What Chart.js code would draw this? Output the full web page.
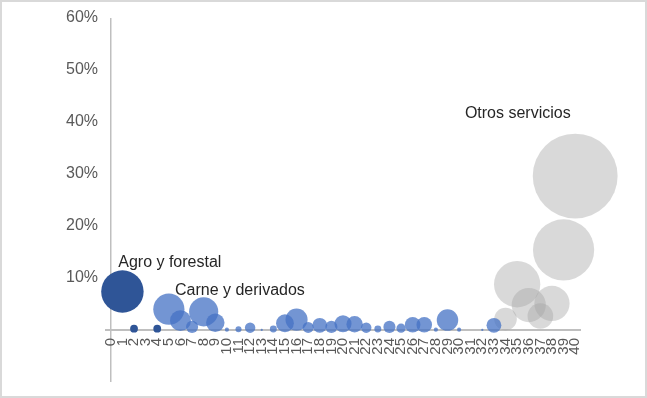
<!DOCTYPE html>
<html>
<head>
<meta charset="utf-8">
<script src="https://cdn.jsdelivr.net/npm/chart.js@4/dist/chart.umd.min.js"></script>
<style>
  html, body { margin: 0; padding: 0; background: #fff; }
  #wrap { width: 647px; height: 398px; position: relative; }
</style>
</head>
<body>
<div id="wrap"><canvas id="chart" width="647" height="398"></canvas></div>
<script>
// Sector number (x) and share of the total in % (y; also sets bubble area)
const primaryX = [1, 2, 4];
const primaryShare = [7.4, 0.25, 0.25];

const industryX = [5, 6, 7, 8, 9, 10, 11, 12, 13, 14, 15, 16, 17, 18, 19, 20,
                   21, 22, 23, 24, 25, 26, 27, 28, 29, 30, 32, 33];
const industryShare = [4.0, 1.8, 0.6, 3.5, 1.4, 0.07, 0.15, 0.45, 0.02, 0.2, 1.3, 2.0,
                       0.5, 0.9, 0.6, 1.2, 1.1, 0.45, 0.2, 0.6, 0.35, 1.0, 1.0, 0.07,
                       1.9, 0.07, 0.02, 0.9];

const servicesX = [34, 35, 36, 37, 38, 39, 40];
const servicesShare = [2.1, 8.8, 4.8, 2.7, 5.1, 15.4, 29.6];

// Sector numbers printed along the horizontal axis
const xTickValues = [0, 1, 2, 3, 4, 5, 6, 7, 8, 9, 10, 11, 12, 13, 14, 15, 16, 17, 18, 19, 20,
                     21, 22, 23, 24, 25, 26, 27, 28, 29, 30, 31, 32, 33, 34, 35, 36, 37, 38, 39, 40];
const yTickValues = [0, 10, 20, 30, 40, 50, 60];
const yTickLabels = [10, 20, 30, 40, 50, 60];

const groupNames = ['Agro y forestal', 'Carne y derivados', 'Otros servicios'];

// Bubble area proportional to the share
const bubbleRadius = share => 7.8 * Math.sqrt(share);
const toPoints = (xs, shares) => xs.map((x, i) => ({ x: x, y: shares[i], r: bubbleRadius(shares[i]) }));

const FONT = '"Liberation Sans", Arial, sans-serif';
Chart.defaults.font.family = FONT;

// Frame around the whole figure
const framePlugin = {
  id: 'frame',
  beforeDraw(chart) {
    const ctx = chart.ctx;
    ctx.save();
    ctx.fillStyle = '#ffffff';
    ctx.fillRect(0, 0, chart.width, chart.height);
    ctx.strokeStyle = '#d9d9d9';
    ctx.lineWidth = 2;
    ctx.strokeRect(1, 1, chart.width - 2, chart.height - 2);
    ctx.restore();
  }
};

// Group names written next to their bubbles (anchors in data units)
const groupLabelPlugin = {
  id: 'groupLabels',
  afterDatasetsDraw(chart, args, opts) {
    const { ctx, scales: { x, y } } = chart;
    ctx.save();
    ctx.font = '16px ' + FONT;
    ctx.fillStyle = '#262626';
    ctx.textAlign = 'left';
    ctx.textBaseline = 'middle';
    opts.items.forEach(it => {
      ctx.fillText(it.text, x.getPixelForValue(it.x), y.getPixelForValue(it.y));
    });
    ctx.restore();
  }
};

const AXIS_GREY = '#bfbfbf';
const NONE = 'rgba(0,0,0,0)';
const isZero = v => Math.abs(v) < 1e-9;

new Chart(document.getElementById('chart'), {
  type: 'bubble',
  data: {
    datasets: [
      {
        label: groupNames[0],
        data: toPoints(primaryX, primaryShare),
        backgroundColor: 'rgba(47, 85, 151, 1)',
        borderWidth: 0,
        clip: false
      },
      {
        label: groupNames[1],
        data: toPoints(industryX, industryShare),
        backgroundColor: 'rgba(68, 114, 196, 0.75)',
        borderWidth: 0,
        clip: false
      },
      {
        label: groupNames[2],
        data: toPoints(servicesX, servicesShare),
        backgroundColor: 'rgba(165, 165, 165, 0.42)',
        borderWidth: 0,
        clip: false
      }
    ]
  },
  options: {
    responsive: false,
    animation: false,
    events: [],
    layout: { autoPadding: false, padding: { left: 65, top: 18, right: 66, bottom: 16 } },
    plugins: {
      legend: { display: false },
      tooltip: { enabled: false },
      groupLabels: {
        items: [
          { text: groupNames[0], x: 0.64, y: 12.9 },
          { text: groupNames[1], x: 5.53, y: 7.5 },
          { text: groupNames[2], x: 30.5, y: 41.7 }
        ]
      }
    },
    scales: {
      x: {
        type: 'linear',
        position: 'bottom',
        min: -0.5,
        max: 40.5,
        afterBuildTicks: scale => { scale.ticks = xTickValues.map(v => ({ value: v })); },
        afterFit: scale => { scale.height = 52; },
        border: { display: false },
        grid: {
          // only the line at sector 0 is visible; its tick mark continues it below the axis
          drawTicks: true,
          tickLength: 52,
          lineWidth: 1.5,
          color: ctx => (ctx.tick && isZero(ctx.tick.value)) ? AXIS_GREY : NONE
        },
        ticks: {
          autoSkip: false,
          minRotation: 90,
          maxRotation: 90,
          padding: -44,
          color: '#595959',
          font: { size: 15, family: FONT },
          callback: v => String(v)
        }
      },
      y: {
        type: 'linear',
        position: 'left',
        min: 0,
        max: 60,
        afterBuildTicks: scale => { scale.ticks = yTickValues.map(v => ({ value: v })); },
        afterFit: scale => { scale.width = 40; },
        border: { display: false },
        grid: {
          drawTicks: false,
          tickLength: 0,
          lineWidth: 2,
          color: ctx => (ctx.tick && isZero(ctx.tick.value)) ? AXIS_GREY : NONE
        },
        ticks: {
          padding: 7,
          color: '#595959',
          font: { size: 16, family: FONT },
          callback: v => yTickLabels.includes(v) ? v + '%' : ''
        }
      }
    }
  },
  plugins: [framePlugin, groupLabelPlugin]
});
</script>
</body>
</html>
